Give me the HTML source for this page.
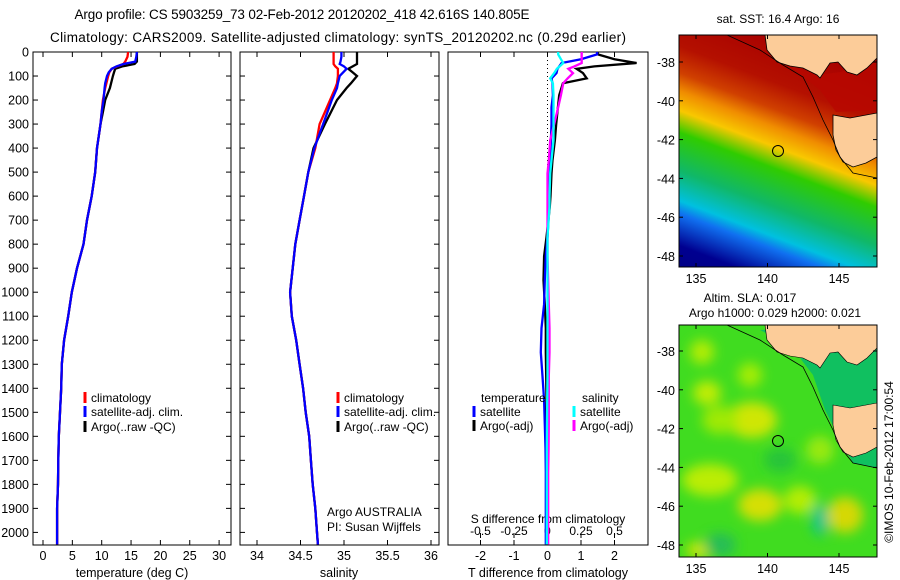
<!DOCTYPE html>
<html><head><meta charset="utf-8">
<style>
body{margin:0;background:#fff;}
svg{display:block;font-family:"Liberation Sans",sans-serif;}
text{fill:#000;}
</style></head>
<body>
<svg id="fig" width="900" height="580" viewBox="0 0 900 580" xmlns="http://www.w3.org/2000/svg">
<defs>
<linearGradient id="sstg" gradientUnits="userSpaceOnUse" x1="778" y1="35" x2="671.5" y2="315.5">
<stop offset="0" stop-color="#a80000"/>
<stop offset="0.15" stop-color="#b41000"/>
<stop offset="0.234" stop-color="#d04000"/>
<stop offset="0.29" stop-color="#f08c00"/>
<stop offset="0.352" stop-color="#f8c800"/>
<stop offset="0.42" stop-color="#30cc00"/>
<stop offset="0.539" stop-color="#10b868"/>
<stop offset="0.633" stop-color="#00c0e0"/>
<stop offset="0.673" stop-color="#1070f0"/>
<stop offset="0.773" stop-color="#000090"/>
<stop offset="1" stop-color="#000070"/>
</linearGradient>
<filter id="blur"><feGaussianBlur stdDeviation="6"/></filter>
<clipPath id="clipTop"><rect x="679" y="35" width="198" height="232"/></clipPath>
<clipPath id="clipBot"><rect x="679" y="325" width="198" height="232"/></clipPath>
</defs>

<text x="302" y="19" font-size="13.5" text-anchor="middle" textLength="455">Argo profile: CS 5903259_73 02-Feb-2012 20120202_418 42.616S 140.805E</text>
<text x="338" y="42" font-size="13.5" text-anchor="middle" textLength="576">Climatology: CARS2009. Satellite-adjusted climatology: synTS_20120202.nc (0.29d earlier)</text>

<g id="p1"></g>
<g id="p2"></g>
<g id="p3"></g>

<!-- SST map -->
<g>
<text x="778" y="23" font-size="12" text-anchor="middle">sat. SST: 16.4 Argo: 16</text>
<g clip-path="url(#clipTop)">
<rect x="679" y="35" width="198" height="232" fill="url(#sstg)"/>
<path d="M790,66 L817,75 L840,72 L877,62 L877,110 L836,112 L820,90 Z" fill="#b80800" opacity="0.8"/>
<polygon points="765,35 767,50 777,62 790,66 803,68 817,75 820,78 830,63 838,62 847,72 857,75 867,68 877,58 877,35" fill="#fccc99" stroke="#000" stroke-width="0.8"/>
<polygon points="833,115 850,118 877,113 877,157 866,163 853,167 843,162 836,150 833,135" fill="#fccc99" stroke="#000" stroke-width="0.8"/>
<polyline points="727,35 760,50 783,65 803,77 813,97 823,120 833,140 840,157 853,173 877,178" fill="none" stroke="#000" stroke-width="0.8"/>
<circle cx="778" cy="151" r="5.5" fill="none" stroke="#000" stroke-width="1"/>
</g>
<rect x="679" y="35" width="198" height="232" fill="none" stroke="#000" stroke-width="1"/>
</g>

<!-- SLA map -->
<g>
<text x="750" y="302" font-size="12" text-anchor="middle">Altim. SLA: 0.017</text>
<text x="775" y="317" font-size="12" text-anchor="middle">Argo h1000: 0.029 h2000: 0.021</text>
<g clip-path="url(#clipBot)">
<rect x="679" y="325" width="198" height="232" fill="#40dc20"/>
<g filter="url(#blur)" opacity="0.85">
<ellipse cx="702" cy="352" rx="12" ry="12" fill="#c8f000"/>
<ellipse cx="707" cy="393" rx="14" ry="12" fill="#d8f000"/>
<ellipse cx="752" cy="420" rx="25" ry="18" fill="#e8e800"/>
<ellipse cx="720" cy="420" rx="18" ry="14" fill="#b0ec00"/>
<ellipse cx="710" cy="480" rx="28" ry="16" fill="#d0f000"/>
<ellipse cx="760" cy="505" rx="22" ry="16" fill="#f0e000"/>
<ellipse cx="845" cy="515" rx="18" ry="18" fill="#f0d800"/>
<ellipse cx="800" cy="500" rx="16" ry="14" fill="#c8f000"/>
<ellipse cx="750" cy="375" rx="12" ry="12" fill="#b8f000"/>
<ellipse cx="820" cy="450" rx="14" ry="14" fill="#a8ec10"/>
<ellipse cx="700" cy="550" rx="14" ry="8" fill="#e8e800"/>
<ellipse cx="820" cy="520" rx="8" ry="16" fill="#10c0a0"/>
<ellipse cx="720" cy="545" rx="16" ry="12" fill="#20b860"/>
<ellipse cx="780" cy="460" rx="16" ry="12" fill="#20c040"/>
</g>
<path d="M760,330 L790,345 L813,375 L825,410 L840,440 L853,463 L877,468 L877,325 Z" fill="#10c060"/>
<polygon points="765,325 767,340 777,352 790,356 803,358 817,365 820,368 830,353 838,352 847,362 857,365 867,358 877,348 877,325" fill="#fccc99" stroke="#000" stroke-width="0.6"/>
<polygon points="833,405 850,408 877,403 877,447 866,453 853,457 843,452 836,440 833,425" fill="#fccc99" stroke="#000" stroke-width="0.6"/>
<polyline points="727,325 760,340 783,355 803,367 813,387 823,410 833,430 840,447 853,463 877,468" fill="none" stroke="#000" stroke-width="0.8"/>
<circle cx="778" cy="441" r="5.5" fill="none" stroke="#000" stroke-width="1"/>
</g>
<rect x="679" y="325" width="198" height="232" fill="none" stroke="#000" stroke-width="1"/>
</g>
<g id="mapaxes"></g>
<text transform="translate(893,462) rotate(-90)" font-size="12" text-anchor="middle">©IMOS 10-Feb-2012 17:00:54</text>
</svg>

<script>
// ---- profile data ----
const depths = [0,20,40,50,60,70,85,100,130,150,200,250,300,400,500,600,700,800,900,1000,1100,1200,1300,1400,1500,1600,1700,1800,1900,2000,2050];
const tempArgo = [16.0,16.0,16.0,15.6,13.5,12.3,12.1,11.9,11.6,11.4,10.6,10.2,9.8,9.2,8.9,8.3,7.5,6.9,5.8,4.9,4.3,3.6,3.2,3.1,2.9,2.7,2.6,2.55,2.4,2.4,2.4];
const tempClim = [14.5,14.4,14.0,13.7,12.6,11.7,11.3,11.1,10.8,10.6,10.2,10.0,9.8,9.2,8.9,8.3,7.5,6.9,5.8,4.9,4.3,3.6,3.2,3.1,2.9,2.7,2.6,2.55,2.4,2.4,2.4];
const tempSat = [16.0,15.9,15.7,13.7,12.5,11.7,11.2,10.9,10.6,10.5,10.3,10.0,9.8,9.2,8.9,8.3,7.5,6.9,5.8,4.9,4.3,3.6,3.2,3.1,2.9,2.7,2.6,2.55,2.4,2.4,2.4];
const salArgo = [35.15,35.15,35.15,35.15,35.1,35.05,35.1,35.15,35.08,35.03,34.92,34.85,34.78,34.65,34.59,34.54,34.49,34.44,34.41,34.38,34.40,34.45,34.49,34.53,34.56,34.60,34.62,34.64,34.67,34.69,34.70];
const salClim = [34.88,34.88,34.88,34.88,34.9,34.93,34.93,34.93,34.92,34.9,34.84,34.78,34.72,34.67,34.59,34.54,34.49,34.44,34.41,34.38,34.40,34.45,34.49,34.53,34.56,34.60,34.62,34.64,34.67,34.69,34.70];
const salSat = [34.97,34.97,34.96,34.95,35.0,35.03,34.99,34.95,34.93,34.92,34.86,34.81,34.76,34.66,34.59,34.54,34.49,34.44,34.41,34.38,34.40,34.45,34.49,34.53,34.56,34.60,34.62,34.64,34.67,34.69,34.70];
// ---- difference data ----
const diffDepths = [0,10,30,46,60,70,88,110,130,180,230,300,367,450,505,600,645,770,850,950,1050,1150,1250,1350,1450,1550,1650,1750,1850,1950,2050];
const dTArgo = [1.5,1.5,2.0,2.66,1.4,0.87,1.06,1.17,0.46,0.35,0.31,0.26,0.22,0.15,0.12,0.09,0.07,-0.03,-0.1,-0.12,-0.08,-0.05,-0.05,-0.04,-0.03,-0.03,-0.03,-0.02,-0.02,-0.02,-0.02];
const dTSat = [1.48,1.48,1.0,0.42,0.35,0.3,0.27,0.12,0.15,0.16,0.12,0.12,0.1,0.08,0.07,0.05,0.05,0.0,-0.05,-0.08,-0.1,-0.18,-0.2,-0.15,-0.1,-0.08,-0.06,-0.05,-0.05,-0.05,-0.05];
const dSArgo = [0.255,0.255,0.255,0.255,0.2,0.155,0.19,0.15,0.118,0.1,0.08,0.05,0.02,0.01,0.0,0.0,0.0,0.0,0.0,0.005,0.01,0.015,0.015,0.01,0.01,0.01,0.008,0.005,0.005,0.005,0.005];
const dSSat = [0.08,0.08,0.1,0.118,0.09,0.07,0.05,0.02,0.04,0.045,0.045,0.045,0.045,0.03,0.02,0.015,0.015,0.0,0.0,0.0,0.0,0.0,0.0,0.0,-0.002,-0.004,-0.005,-0.005,-0.005,-0.005,-0.005];
const depthTicks = [0,100,200,300,400,500,600,700,800,900,1000,1100,1200,1300,1400,1500,1600,1700,1800,1900,2000];
const tempTicks = [0,5,10,15,20,25,30];
const salTicks = [34,34.5,35,35.5,36];
const dTTicks = [-2,-1,0,1,2];
const dSTicks = [-0.5,-0.25,0,0.25,0.5];
const lonTicks = [135,140,145];
const latTicks = [-38,-40,-42,-44,-46,-48];

const NS = 'http://www.w3.org/2000/svg';
const FS = 12;
function mk(tag, attrs, parent, txt){
  const e = document.createElementNS(NS, tag);
  for (const k in attrs) e.setAttribute(k, attrs[k]);
  if (txt !== undefined) e.textContent = txt;
  parent.appendChild(e);
  return e;
}
const TOP = 52, BOT = 545;
const yD = d => TOP + d * 0.2402;
const xT = t => 43 + t * 5.87;
const xS = s => 257 + (s - 34) * 87;
const xDT = v => 547.5 + v * 33.5;
const xDS = v => 547.5 + v * 134;

function frame(g, x0, x1, leftLabels){
  const r = mk('rect', {x:x0, y:TOP, width:x1-x0, height:BOT-TOP, fill:'none', stroke:'#000', 'stroke-width':1}, g);
  
  
  depthTicks.forEach(d => {
    const y = yD(d);
    mk('line', {x1:x0, x2:x0+5, y1:y, y2:y, stroke:'#000'}, g);
    mk('line', {x1:x1-5, x2:x1, y1:y, y2:y, stroke:'#000'}, g);
    if (leftLabels) {
      const t = mk('text', {x:x0-4, y:y+4.5, 'font-size':FS+0.5, 'text-anchor':'end'}, g, String(d));
      
      
    }
  });
}
function xAxis(g, ticks, fx, label, cx){
  ticks.forEach(v => {
    const x = fx(v);
    mk('line', {x1:x, x2:x, y1:BOT, y2:BOT-5, stroke:'#000'}, g);
    mk('line', {x1:x, x2:x, y1:TOP, y2:TOP+5, stroke:'#000'}, g);
    const t = mk('text', {x:x, y:BOT+15, 'font-size':FS+0.5, 'text-anchor':'middle'}, g, String(v));
    
    
  });
  const l = mk('text', {x:cx, y:577, 'font-size':FS+0.5, 'text-anchor':'middle'}, g, label);
  
  
}
function line(g, xs, ds, fx, color, name){
  const pts = xs.map((v,i) => fx(v).toFixed(1) + ',' + yD(ds[i]).toFixed(1)).join(' ');
  const p = mk('polyline', {points:pts, fill:'none', stroke:color, 'stroke-width':2.3, 'stroke-linejoin':'miter'}, g);
  
  
}
function legend(g, x, y, color, label){
  mk('line', {x1:x, x2:x, y1:y-10, y2:y+1, stroke:color, 'stroke-width':3}, g);
  const t = mk('text', {x:x+6, y:y, 'font-size':FS}, g, label);
  
  
}

// Panel 1
const p1 = document.getElementById('p1');
frame(p1, 33, 231, true);
xAxis(p1, tempTicks, xT, 'temperature (deg C)', 132);
line(p1, tempArgo, depths, xT, '#000', 'temp-argo-line');
line(p1, tempClim, depths, xT, '#f00', 'temp-climatology-line');
line(p1, tempSat, depths, xT, '#00f', 'temp-satellite-line');
legend(p1, 85, 402, '#f00', 'climatology');
legend(p1, 85, 416, '#00f', 'satellite-adj. clim.');
legend(p1, 85, 431, '#000', 'Argo(..raw -QC)');

// Panel 2
const p2 = document.getElementById('p2');
frame(p2, 240, 439, false);
xAxis(p2, salTicks, xS, 'salinity', 339);
line(p2, salArgo, depths, xS, '#000', 'sal-argo-line');
line(p2, salClim, depths, xS, '#f00', 'sal-climatology-line');
line(p2, salSat, depths, xS, '#00f', 'sal-satellite-line');
legend(p2, 338, 402, '#f00', 'climatology');
legend(p2, 338, 416, '#00f', 'satellite-adj. clim.');
legend(p2, 338, 431, '#000', 'Argo(..raw -QC)');
const a1 = mk('text', {x:327, y:516, 'font-size':FS}, p2, 'Argo AUSTRALIA');


const a2 = mk('text', {x:327, y:531, 'font-size':FS}, p2, 'PI: Susan Wijffels');



// Panel 3
const p3 = document.getElementById('p3');
const r3 = mk('rect', {x:448, y:TOP, width:200, height:BOT-TOP, fill:'none', stroke:'#000'}, p3);


mk('line', {x1:547.5, x2:547.5, y1:TOP, y2:BOT, stroke:'#000', 'stroke-dasharray':'1,3'}, p3);
dTTicks.forEach(v => {
  const x = xDT(v);
  mk('line', {x1:x, x2:x, y1:BOT, y2:BOT-5, stroke:'#000'}, p3);
  const t = mk('text', {x:x, y:BOT+15, 'font-size':FS+0.5, 'text-anchor':'middle'}, p3, String(v));
  
  
});
dSTicks.forEach(v => {
  const x = xDS(v);
  mk('line', {x1:x, x2:x, y1:TOP, y2:TOP+5, stroke:'#000'}, p3);
  mk('line', {x1:x, x2:x, y1:538, y2:533, stroke:'#000'}, p3);
  const t = mk('text', {x:x, y:535, 'font-size':FS, 'text-anchor':'middle'}, p3, String(v));
  
  
});
const st = mk('text', {x:548, y:523, 'font-size':FS, 'text-anchor':'middle'}, p3, 'S difference from climatology');


const tt = mk('text', {x:548, y:577, 'font-size':FS+0.5, 'text-anchor':'middle'}, p3, 'T difference from climatology');


line(p3, dTArgo, diffDepths, xDT, '#000', 'dT-argo-line');
line(p3, dTSat, diffDepths, xDT, '#00f', 'dT-satellite-line');
line(p3, dSArgo, diffDepths, xDS, '#f0f', 'dS-argo-line');
line(p3, dSSat, diffDepths, xDS, '#0ff', 'dS-satellite-line');
const lt = mk('text', {x:481, y:402, 'font-size':FS}, p3, 'temperature');


const ls = mk('text', {x:582, y:402, 'font-size':FS}, p3, 'salinity');


legend(p3, 474, 416, '#00f', 'satellite');
legend(p3, 474, 430, '#000', 'Argo(-adj)');
legend(p3, 574, 416, '#0ff', 'satellite');
legend(p3, 574, 430, '#f0f', 'Argo(-adj)');

// map axes
const ma = document.getElementById('mapaxes');
const xLon = lon => 696 + (lon - 135) * 14.3;
[[35,267,62],[325,557,351]].forEach(([t,b,y38]) => {
  lonTicks.forEach(lon => {
    const x = xLon(lon);
    mk('line', {x1:x, x2:x, y1:t, y2:t+4, stroke:'#000'}, ma);
    mk('line', {x1:x, x2:x, y1:b, y2:b-4, stroke:'#000'}, ma);
    const tx = mk('text', {x:x, y:b+16, 'font-size':FS+0.5, 'text-anchor':'middle'}, ma, String(lon));
    
    
  });
  latTicks.forEach(lat => {
    const y = y38 + (-38 - lat) * 19.4;
    mk('line', {x1:679, x2:683, y1:y, y2:y, stroke:'#000'}, ma);
    mk('line', {x1:873, x2:877, y1:y, y2:y, stroke:'#000'}, ma);
    const tx = mk('text', {x:675, y:y+5, 'font-size':FS+0.5, 'text-anchor':'end'}, ma, String(lat));
    
    
  });
});
</script>
</body></html>
